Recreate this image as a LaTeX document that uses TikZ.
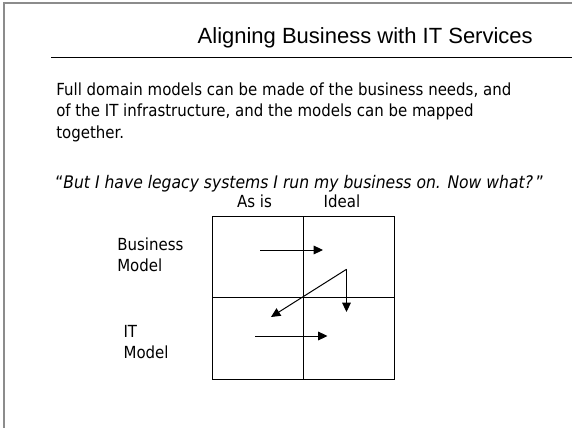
\documentclass[tikz,border=0pt]{standalone}
\usepackage{fontspec}
\usepackage{graphicx}
\setmainfont{DejaVu Sans}[FakeStretch=0.9]
\newfontfamily\titlefont{Liberation Sans}
\usetikzlibrary{arrows.meta}
\tikzset{
  body/.style={font=\fontsize{12.5}{15}\selectfont, inner sep=0pt, anchor=base west},
  quo/.style={font=\fontsize{13}{15}\selectfont, inner sep=0pt, anchor=base west},
  ttl/.style={font=\titlefont\fontsize{16.5}{19}\selectfont, inner sep=0pt, anchor=base east},
  gridline/.style={draw=black, line width=0.75pt},
  arr/.style={draw=black, line width=0.75pt, -{Triangle[length=7pt,width=6.5pt]}},
}
\begin{document}
\begin{tikzpicture}[x=0.75pt,y=-0.75pt]
\useasboundingbox (0,0) rectangle (572,428);
\fill[white] (0,0) rectangle (572,428);
% page frame
\draw[gray!90, line width=1.5pt] (3.6,430) -- (3.6,2.6) -- (575,2.6);
% title
\node[ttl] (title) at (533,44) {Aligning Business with IT Services};
\draw[black, line width=0.75pt] (51,57.3) -- (572,57.3);
% body
\node[body] (l1) at (56,96) {Full domain models can be made of the business needs, and};
\node[body] (l2) at (56,117) {of the IT infrastructure, and the models can be mapped};
\node[body] (l3) at (56,138) {together.};
\node[quo] (q) at (55,189) {“\textit{But I have legacy systems I run my business on. Now what?}\,”};
\node[body, anchor=base] (asis) at (254.5,208) {As is};
\node[body, anchor=base] (ideal) at (342,208) {Ideal};
\node[body] (bm1) at (117,250) {Business};
\node[body] (bm2) at (117,271.5) {Model};
\node[body] (it1) at (123.3,337) {IT};
\node[body] (it2) at (123.3,358) {Model};
% grid
\coordinate (tl) at (212.3,216.5);
\coordinate (br) at (394,379);
\draw[gridline] (tl) rectangle (br);
\draw[gridline] (303.7,216.5) -- (303.7,379);
\draw[gridline] (212.3,297.3) -- (394,297.3);
% arrows
\coordinate (a1s) at (260,250);
\coordinate (a1e) at (323,250);
\draw[arr] (a1s) -- (a1e);
\coordinate (pk) at (346.5,269.3);
\coordinate (dn) at (346.5,312);
\coordinate (dl) at (271,317);
\draw[arr] (pk) -- (dn);
\draw[arr] (pk) -- (dl);
\coordinate (a3s) at (255,336);
\coordinate (a3e) at (327.5,336);
\draw[arr] (a3s) -- (a3e);
\end{tikzpicture}
\end{document}
